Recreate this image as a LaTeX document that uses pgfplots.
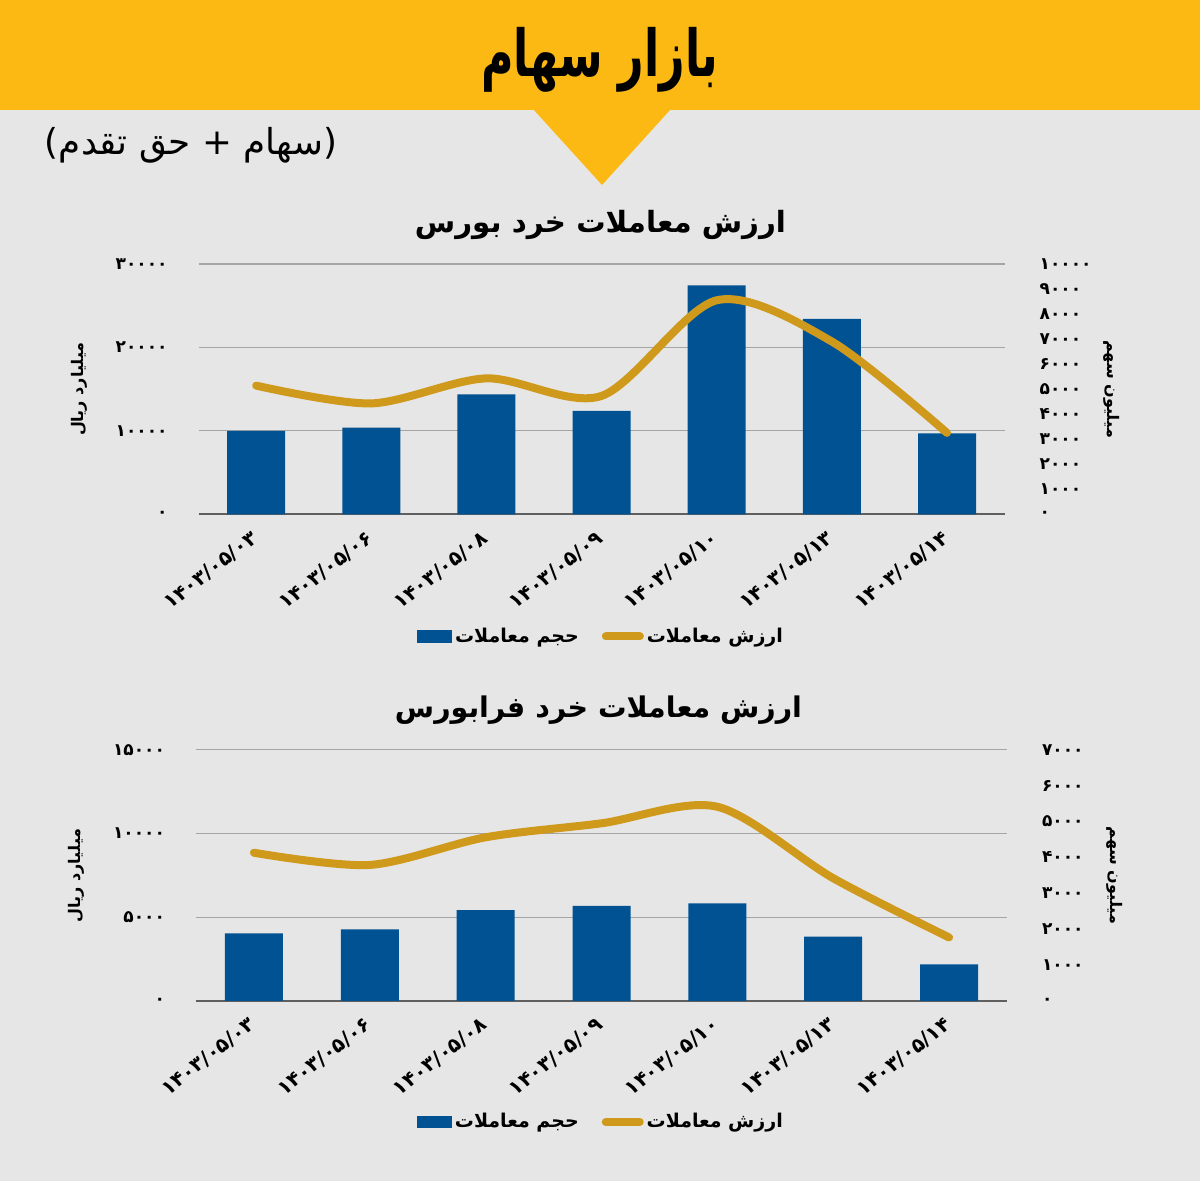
\documentclass[border=0pt]{standalone}
\usepackage{pgfplots}
\pgfplotsset{compat=1.18}
\usepackage{fontspec}
\setmainfont{DejaVu Sans}
\newfontfamily\fa[Script=Arabic]{DejaVu Sans}
\TeXXeTstate=1

\definecolor{bg}{RGB}{230,230,230}
\definecolor{band}{RGB}{253,185,19}
\definecolor{barblue}{RGB}{1,82,147}
\definecolor{linegold}{RGB}{207,153,28}
\definecolor{gridgray}{RGB}{165,165,165}
\definecolor{axisgray}{RGB}{95,95,95}

\pgfplotsset{
  base/.style={
    scale only axis,
    xmin=-0.5, xmax=6.5, xtick={0,...,6},
    major tick length=0pt, ymin=0,
    scaled y ticks=false,
    tick label style={font=\fa\bfseries\fontsize{8.5}{10}\selectfont, text=black},
    label style={font=\fa\bfseries\fontsize{8}{10}\selectfont},
  },
  leftax/.style={
    base,
    axis x line*=bottom, axis y line*=left,
    y axis line style={draw=none},
    x axis line style={draw=axisgray, line width=0.8pt, -},
    ymajorgrids, grid style={gridgray, line width=0.6pt},
    xticklabels={۱۴۰۳/۰۵/۰۳,۱۴۰۳/۰۵/۰۶,۱۴۰۳/۰۵/۰۸,۱۴۰۳/۰۵/۰۹,۱۴۰۳/۰۵/۱۰,۱۴۰۳/۰۵/۱۳,۱۴۰۳/۰۵/۱۴},
    xticklabel style={rotate=38, anchor=east, yshift=-8pt, xshift=-3.5pt,
      font=\fa\bfseries\fontsize{10}{12}\selectfont},
    yticklabel style={anchor=east, xshift=-12pt},
    ylabel style={at={(axis description cs:-0.148,0.5)}, anchor=center},
    ylabel={\beginR میلیارد ریال\endR},
  },
  rightax/.style={
    base,
    axis y line*=right, axis x line=none,
    y axis line style={draw=none},
    yticklabel style={anchor=west, xshift=14pt},
    ylabel style={at={(axis description cs:1.133,0.5)}, anchor=center, rotate=180},
    ylabel={\beginR میلیون سهم\endR},
    legend style={draw=none, fill=none, legend columns=2,
      font=\fa\bfseries\fontsize{9.5}{10}\selectfont,
      nodes={inner sep=1.5pt},
      /tikz/every even column/.append style={column sep=10pt}},
  },
  barimg/.style={legend image code/.code={\fill[barblue] (0pt,-2.8pt) rectangle (17pt,2.8pt);}},
  lineimg/.style={legend image code/.code={\draw[linegold, line width=4pt, line cap=round] (2pt,0pt) -- (19pt,0pt);}},
}

\begin{document}
\begin{tikzpicture}
% background and header
\fill[bg] (0,0) rectangle (600pt,590.5pt);
\fill[band] (0,535.5pt) rectangle (600pt,590.5pt);
\fill[band] (266.5pt,536pt) -- (335.5pt,536pt) -- (301pt,498pt) -- cycle;
\node at (300pt,560.75pt) {\resizebox*{118.5pt}{32.5pt}{\fa\bfseries\beginR بازار سهام\endR}};
\node at (95.5pt,517.75pt) {\resizebox{146pt}{!}{\beginL{\rmfamily(}{\fa\beginR سهام + حق تقدم\endR}{\rmfamily)}\endL}};

% chart 1 title
\node at (300.25pt,478.25pt) {\resizebox{185.5pt}{!}{\fa\bfseries\beginR ارزش معاملات خرد بورس\endR}};

% chart 1: bars (left axis)
\begin{axis}[leftax, at={(99.3pt,333.35pt)}, anchor=south west,
  width=403pt, height=125.15pt, ymax=30000,
  ytick={0,10000,20000,30000},
  yticklabels={۰,۱۰۰۰۰,۲۰۰۰۰,۳۰۰۰۰}]
\addplot[ybar, bar width=29pt, fill=barblue, draw=none] coordinates {
  (0,9990) (1,10380) (2,14380) (3,12380) (4,27450) (5,23410) (6,9710)};
\end{axis}
% chart 1: line (right axis)
\begin{axis}[rightax, at={(99.3pt,333.35pt)}, anchor=south west,
  width=403pt, height=125.15pt, ymax=10000,
  ytick={0,1000,...,10000},
  yticklabels={۰,۱۰۰۰,۲۰۰۰,۳۰۰۰,۴۰۰۰,۵۰۰۰,۶۰۰۰,۷۰۰۰,۸۰۰۰,۹۰۰۰,۱۰۰۰۰},
  legend style={at={(0.5,-0.488)}, anchor=center}]
\addlegendimage{barimg}
\addlegendentry{\beginR حجم معاملات\endR}
\addplot[linegold, line width=4pt, smooth, line cap=round, lineimg] coordinates {
  (0,5140) (1,4430) (2,5430) (3,4730) (4,8550) (5,6900) (6,3250)};
\addlegendentry{\beginR ارزش معاملات\endR}
\end{axis}

% chart 2 title
\node at (299.25pt,235.25pt) {\resizebox{203.5pt}{!}{\fa\bfseries\beginR ارزش معاملات خرد فرابورس\endR}};

% chart 2: bars (left axis)
\begin{axis}[leftax, at={(98pt,90pt)}, anchor=south west,
  width=405.5pt, height=125.65pt, ymax=15000,
  ytick={0,5000,10000,15000},
  yticklabels={۰,۵۰۰۰,۱۰۰۰۰,۱۵۰۰۰}]
\addplot[ybar, bar width=29pt, fill=barblue, draw=none] coordinates {
  (0,4040) (1,4280) (2,5430) (3,5670) (4,5830) (5,3840) (6,2190)};
\end{axis}
% chart 2: line (right axis)
\begin{axis}[rightax, at={(98pt,90pt)}, anchor=south west,
  width=405.5pt, height=125.65pt, ymax=7000,
  ytick={0,1000,...,7000},
  yticklabels={۰,۱۰۰۰,۲۰۰۰,۳۰۰۰,۴۰۰۰,۵۰۰۰,۶۰۰۰,۷۰۰۰},
  legend style={at={(0.5,-0.4815)}, anchor=center}]
\addlegendimage{barimg}
\addlegendentry{\beginR حجم معاملات\endR}
\addplot[linegold, line width=4pt, smooth, line cap=round, lineimg] coordinates {
  (0,4130) (1,3790) (2,4560) (3,4950) (4,5410) (5,3420) (6,1770)};
\addlegendentry{\beginR ارزش معاملات\endR}
\end{axis}

\pgfresetboundingbox
\path[use as bounding box] (0,0) rectangle (600pt,590.5pt);
\end{tikzpicture}
\end{document}
